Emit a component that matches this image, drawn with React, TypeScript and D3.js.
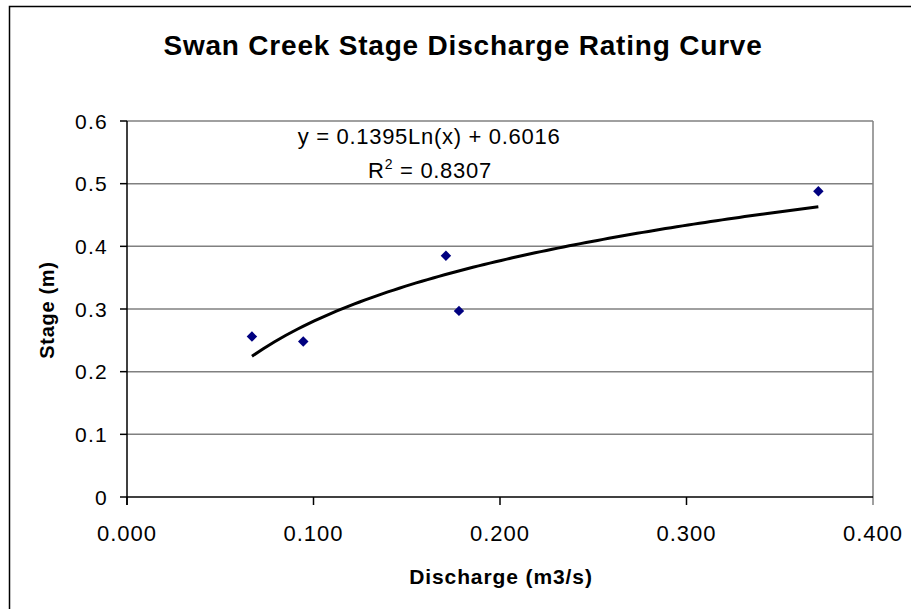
import React from "react";
import * as d3 from "d3";

const discharge = [0.067, 0.0945, 0.171, 0.178, 0.3707];
const stage = [0.256, 0.248, 0.385, 0.297, 0.488];
const xTicks = [0, 0.1, 0.2, 0.3, 0.4];
const yTicks = [0, 0.1, 0.2, 0.3, 0.4, 0.5, 0.6];
const trendSlope = 0.1395;
const trendIntercept = 0.6016;
const title = "Swan Creek Stage Discharge Rating Curve";
const xTitle = "Discharge (m3/s)";
const yTitle = "Stage (m)";

const W = 911, H = 609;
const L = 127, R = 873, T = 121, B = 497;

export default function App() {
  const x = d3.scaleLinear().domain([0, 0.4]).range([L, R]);
  const y = d3.scaleLinear().domain([0, 0.6]).range([B, T]);
  const xmin = d3.min(discharge)!, xmax = d3.max(discharge)!;
  const trendPts = d3.range(0, 101).map(i => {
    const xv = xmin + (xmax - xmin) * i / 100;
    return [xv, trendSlope * Math.log(xv) + trendIntercept] as [number, number];
  });
  const line = d3.line<[number, number]>().x(d => x(d[0])).y(d => y(d[1]));
  const diamond = d3.symbol().type(d3.symbolDiamond2).size(70)();
  const font = "'Liberation Sans', Arial, sans-serif";
  const pts = discharge.map((d, i) => [d, stage[i]]);
  return (
    <svg width={W} height={H} style={{ position: "absolute", left: 0, top: 0 }} fontFamily={font}>
      <rect x={0} y={0} width={W} height={H} fill="#fff" />
      <path d={`M9.5,${H} V6.5 H${W}`} fill="none" stroke="#000" strokeWidth={1.5} />
      <text x={463} y={55} textAnchor="middle" fontWeight="bold" fontSize={28} letterSpacing={0.8}>{title}</text>
      {yTicks.map(t => (
        <g key={t}>
          {t > 0 && <line x1={L} x2={R} y1={y(t)} y2={y(t)} stroke="#808080" strokeWidth={1.5} />}
          <line x1={L - 7} x2={L} y1={y(t)} y2={y(t)} stroke="#000" strokeWidth={1.5} />
          <text x={108} y={y(t) + 7.5} textAnchor="end" fontSize={21} letterSpacing={1.3}>{t === 0 ? "0" : t.toFixed(1)}</text>
        </g>
      ))}
      <line x1={R} x2={R} y1={T} y2={B} stroke="#808080" strokeWidth={1.5} />
      {xTicks.map(t => (
        <g key={t}>
          <line x1={x(t)} x2={x(t)} y1={B} y2={B + 8} stroke={t === 0.4 ? "#808080" : "#000"} strokeWidth={1.5} />
          <text x={x(t)} y={541} textAnchor="middle" fontSize={22} letterSpacing={1}>{t.toFixed(3)}</text>
        </g>
      ))}
      <line x1={L} x2={L} y1={T} y2={B + 8} stroke="#000" strokeWidth={1.5} />
      <line x1={L} x2={R} y1={B} y2={B} stroke="#000" strokeWidth={1.5} />
      <path d={line(trendPts)!} fill="none" stroke="#000" strokeWidth={3} />
      {pts.map((p, i) => (
        <path key={i} d={diamond!} transform={`translate(${x(p[0])},${y(p[1])})`} fill="#000080" />
      ))}
      <text x={429} y={144} textAnchor="middle" fontSize={22} letterSpacing={0.7}>y = 0.1395Ln(x) + 0.6016</text>
      <text x={430} y={178} textAnchor="middle" fontSize={22} letterSpacing={0.7}>R<tspan dy={-9} fontSize={14}>2</tspan><tspan dy={9}> = 0.8307</tspan></text>
      <text x={501} y={584} textAnchor="middle" fontWeight="bold" fontSize={21} letterSpacing={0.9}>{xTitle}</text>
      <text transform={`translate(54,310) rotate(-90)`} textAnchor="middle" fontWeight="bold" fontSize={20} letterSpacing={0.7}>{yTitle}</text>
    </svg>
  );
}
